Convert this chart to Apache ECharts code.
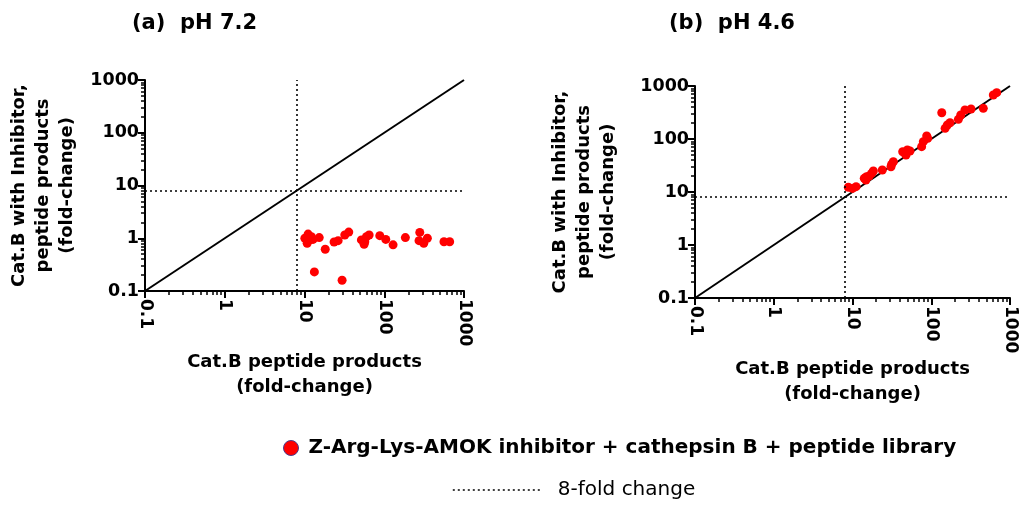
<!DOCTYPE html>
<html><head><meta charset="utf-8">
<script src="https://cdn.jsdelivr.net/npm/echarts@6/dist/echarts.min.js"></script>
<style>html,body{margin:0;padding:0;background:#fff}#c{width:1027px;height:507px}</style>
</head><body><div id="c"></div>
<script>
// ---- data ----
const MAJOR_TICKS = [0.1, 1, 10, 100, 1000];
const MINOR_TICKS = [0.2,0.3,0.4,0.5,0.6,0.7,0.8,0.9, 2,3,4,5,6,7,8,9, 20,30,40,50,60,70,80,90, 200,300,400,500,600,700,800,900];
const THRESHOLD = 8;
const IDENTITY_LINE = [[0.1, 0.1], [1000, 1000]];
const PANEL_TITLES = ['(a)  pH 7.2', '(b)  pH 4.6'];
const SERIES_NAME = 'Z-Arg-Lys-AMOK inhibitor + cathepsin B + peptide library';
const THRESHOLD_NAME = '8-fold change';
const X_NAME = 'Cat.B peptide products\n(fold-change)';
const Y_NAME = 'Cat.B with Inhibitor,\npeptide products\n(fold-change)';

const PH72_X = [10.1,11.1,11.7,10.8,12.2,12.8,15.3,13.3,18.2,23.5,26.4,29.6,32,35.9,51.7,55.9,59.8,64.6,57,87.9,104.5,129,184,279,273,313,347,561,661];
const PH72_Y = [1.0,1.2,0.93,0.80,1.07,0.95,1.03,0.23,0.62,0.85,0.90,0.16,1.15,1.31,0.93,0.77,1.07,1.15,0.86,1.12,0.95,0.75,1.03,1.29,0.90,0.80,1.0,0.86,0.86];

const PH46_X = [8.85,10.0,11.1,14.1,15.1,16.3,17.5,18.4,14.8,23.9,30.8,33.0,31.4,43.4,46.4,49.7,53.7,47.8,75.5,79.3,87.5,90.2,136,150,160,173,221,237,268,320,458,614,678];
const PH46_Y = [12.3,11.7,12.6,18.1,19.4,20.0,22.5,24.9,16.8,26.0,30.0,37.3,33.3,57.6,53.7,62.0,59.4,49.9,71.6,89,114,103,313,159,184,203,235,284,352,368,379,676,748];

const pair = (xs, ys) => xs.map((x, i) => [x, ys[i]]);

const FONT = 'DejaVu Sans';
const GRIDS = [
  {left: 145, top: 80, width: 319, height: 211},
  {left: 695, top: 86, width: 315, height: 212}
];

function mainX(gi) {
  return {
    type: 'log', logBase: 10, gridIndex: gi, min: 0.1, max: 1000,
    name: X_NAME, nameLocation: 'middle', nameGap: 51,
    nameTextStyle: {fontFamily: FONT, fontWeight: 'bold', fontSize: 18, color: '#000', lineHeight: 25},
    axisLine: {lineStyle: {color: '#000', width: 2}},
    axisTick: {customValues: MAJOR_TICKS, length: 7, lineStyle: {color: '#000', width: 2}},
    axisLabel: {customValues: MAJOR_TICKS, rotate: -90, margin: 8, fontFamily: FONT, fontWeight: 'bold', fontSize: 17, color: '#000',
      formatter: v => String(v)},
    splitLine: {show: false}
  };
}
function minorX(gi) {
  return {
    type: 'log', logBase: 10, gridIndex: gi, min: 0.1, max: 1000, position: 'bottom',
    axisLine: {show: false},
    axisTick: {customValues: MINOR_TICKS, length: 4, lineStyle: {color: '#000', width: 1.5}},
    axisLabel: {show: false}, splitLine: {show: false}
  };
}
function mainY(gi, gap) {
  return {
    type: 'log', logBase: 10, gridIndex: gi, min: 0.1, max: 1000,
    name: Y_NAME, nameLocation: 'middle', nameGap: gap,
    nameTextStyle: {fontFamily: FONT, fontWeight: 'bold', fontSize: 18, color: '#000', lineHeight: 24},
    axisLine: {lineStyle: {color: '#000', width: 2}},
    axisTick: {customValues: MAJOR_TICKS, length: 7, lineStyle: {color: '#000', width: 2}},
    axisLabel: {customValues: MAJOR_TICKS, margin: 6, fontFamily: FONT, fontWeight: 'bold', fontSize: 17.5, color: '#000',
      formatter: v => String(v)},
    splitLine: {show: false}
  };
}
function minorY(gi) {
  return {
    type: 'log', logBase: 10, gridIndex: gi, min: 0.1, max: 1000, position: 'left',
    axisLine: {show: false},
    axisTick: {customValues: MINOR_TICKS, length: 4, lineStyle: {color: '#000', width: 1.5}},
    axisLabel: {show: false}, splitLine: {show: false}
  };
}

const refLineStyle = {color: '#000', width: 1.6, type: [2, 3]};

function panelSeries(gi, data) {
  return [
    {type: 'line', xAxisIndex: gi * 2, yAxisIndex: gi * 2, data: IDENTITY_LINE, symbol: 'none', silent: true,
      lineStyle: {color: '#000', width: 2}, z: 2},
    {type: 'line', name: THRESHOLD_NAME, xAxisIndex: gi * 2, yAxisIndex: gi * 2, data: [], symbol: 'none',
      itemStyle: {color: 'rgba(0,0,0,0)'}, lineStyle: refLineStyle,
      markLine: {silent: true, symbol: 'none', label: {show: false}, lineStyle: refLineStyle,
        data: [{xAxis: THRESHOLD}, {yAxis: THRESHOLD}]}, z: 1},
    {type: 'scatter', name: SERIES_NAME, xAxisIndex: gi * 2, yAxisIndex: gi * 2, data: data,
      symbolSize: 9, itemStyle: {color: '#ff0000', opacity: 1}, z: 3}
  ];
}

const chart = echarts.init(document.getElementById('c'), null, {renderer: 'canvas'});
chart.setOption({
  backgroundColor: '#fff',
  animation: false,
  title: [
    {text: PANEL_TITLES[0], left: 127, top: 8, textStyle: {fontFamily: FONT, fontWeight: 'bold', fontSize: 21, color: '#000'}},
    {text: PANEL_TITLES[1], left: 664, top: 8, textStyle: {fontFamily: FONT, fontWeight: 'bold', fontSize: 21, color: '#000'}}
  ],
  grid: GRIDS,
  xAxis: [mainX(0), minorX(0), mainX(1), minorX(1)],
  yAxis: [mainY(0, 66), minorY(0), mainY(1, 75), minorY(1)],
  legend: [
    {left: 283, top: 438, padding: 0, data: [{name: SERIES_NAME, icon: 'circle', itemStyle: {color: '#ff0000', borderColor: '#4a3c8c', borderWidth: 1}}],
      itemWidth: 15, itemHeight: 15,
      textStyle: {fontFamily: FONT, fontWeight: 'bold', fontSize: 20, color: '#000', padding: [0, 0, 0, 5]}},
    {left: 452, top: 480, padding: 0, data: [{name: THRESHOLD_NAME, itemStyle: {color: 'rgba(0,0,0,0)', borderWidth: 0}}],
      itemWidth: 88, itemHeight: 14,
      lineStyle: {color: '#000', width: 1.6, type: [2, 3]},
      textStyle: {fontFamily: FONT, fontSize: 20, color: '#000', padding: [0, 0, 0, 12]}}
  ],
  series: [...panelSeries(0, pair(PH72_X, PH72_Y)), ...panelSeries(1, pair(PH46_X, PH46_Y))]
});
</script></body></html>
